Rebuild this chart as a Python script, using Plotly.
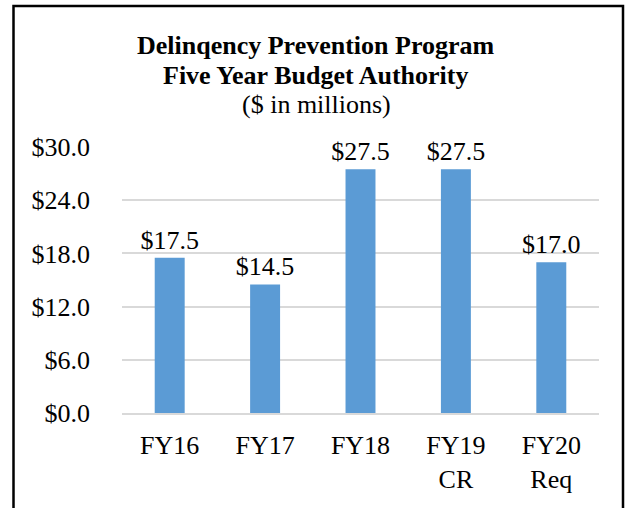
import plotly.graph_objects as go

categories = ["FY16", "FY17", "FY18", "FY19<br>CR", "FY20<br>Req"]
values = [17.5, 14.5, 27.5, 27.5, 17.0]
bar_labels = ["$17.5", "$14.5", "$27.5", "$27.5", "$17.0"]
tick_vals = [0, 6, 12, 18, 24, 30]
tick_text = ["$0.0", "$6.0", "$12.0", "$18.0", "$24.0", "$30.0"]

FONT = "Liberation Serif, Times New Roman, serif"
FS = 26

fig = go.Figure(go.Bar(
    x=categories, y=values, text=bar_labels, textposition="outside",
    constraintext="none",
    textfont=dict(family=FONT, size=FS, color="#000"),
    marker=dict(color="#5b9bd5", line=dict(width=0)),
    cliponaxis=False,
))

L, R, T, B = 122, 27, 147, 95
W, H = 626, 508
pw, ph = W - L - R, H - T - B

def px_x(p):
    return (p - L) / pw

def px_y(p):
    return (H - B - p) / ph

fig.update_layout(
    width=W, height=H, margin=dict(l=L, r=R, t=T, b=B),
    paper_bgcolor="white", plot_bgcolor="white",
    bargap=0.686, showlegend=False,
    font=dict(family=FONT, size=FS, color="#000"),
    xaxis=dict(showgrid=False, showline=True, linecolor="#d9d9d9", linewidth=1.5,
               ticks="", tickfont=dict(family=FONT, size=FS), ticklabelstandoff=8),
    yaxis=dict(range=[0, 30], tickvals=tick_vals, ticktext=tick_text,
               showgrid=True, gridcolor="#d9d9d9", gridwidth=1.5,
               zeroline=False, showline=False, ticks="",
               tickfont=dict(family=FONT, size=FS), ticklabelstandoff=31),
    shapes=[dict(type="rect", xref="paper", yref="paper",
                 x0=px_x(13.5), x1=px_x(623), y0=px_y(530), y1=px_y(6),
                 line=dict(color="black", width=2.5), fillcolor="rgba(0,0,0,0)")],
    annotations=[
        dict(text="<b>Delinqency Prevention Program</b>", xref="paper", yref="paper",
             x=px_x(316), y=px_y(45), yanchor="middle", showarrow=False, font=dict(size=FS)),
        dict(text="<b>Five Year Budget Authority</b>", xref="paper", yref="paper",
             x=px_x(316), y=px_y(75), yanchor="middle", showarrow=False, font=dict(size=FS)),
        dict(text="($ in millions)", xref="paper", yref="paper",
             x=px_x(316), y=px_y(105), yanchor="middle", showarrow=False, font=dict(size=FS)),
    ],
)

fig.write_html("out.html", config={"displayModeBar": False},
               post_script="document.body.style.margin='0';")
